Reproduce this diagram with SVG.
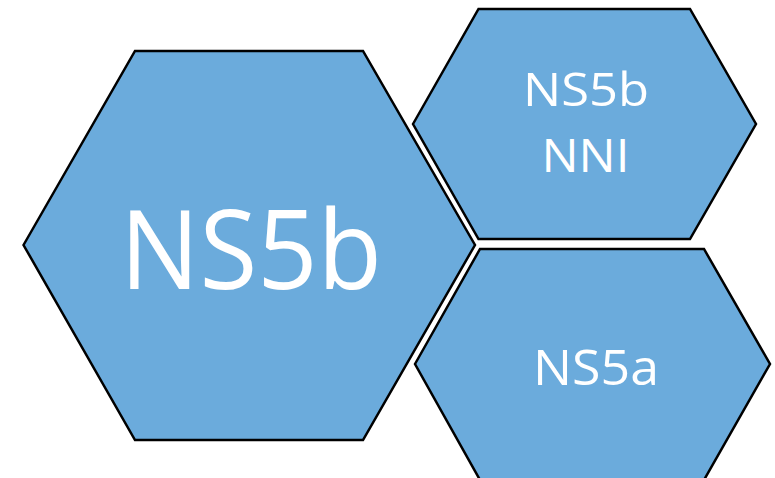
<svg xmlns="http://www.w3.org/2000/svg" width="775" height="478" viewBox="0 0 775 478">
  <style>
    .hex { fill: #6BABDC; stroke: #000000; stroke-width: 2.5; stroke-linejoin: miter; }
    .lbl { fill: #FFFFFF; font-family: "Open Sans", "Liberation Sans", sans-serif; text-anchor: middle; }
  </style>
  <rect width="775" height="478" fill="#FFFFFF"/>
  <g id="node-ns5b">
    <polygon class="hex" points="23.5,245 135,51 363,51 475,245 363,440 135,440"/>
    <text class="lbl" x="251" y="289" font-size="110" textLength="262" lengthAdjust="spacingAndGlyphs">NS5b</text>
  </g>
  <g id="node-ns5b-nni">
    <polygon class="hex" points="413,124 478.5,9 690,9 756,124 690,239 478.5,239"/>
    <text class="lbl" x="586" y="106" font-size="46" textLength="126" lengthAdjust="spacingAndGlyphs">NS5b</text>
    <text class="lbl" x="585.5" y="171.5" font-size="46" textLength="88" lengthAdjust="spacingAndGlyphs">NNI</text>
  </g>
  <g id="node-ns5a">
    <polygon class="hex" points="415,364 480,249 704,249 770,364 704,480 480,480"/>
    <text class="lbl" x="596" y="385" font-size="49" textLength="126" lengthAdjust="spacingAndGlyphs">NS5a</text>
  </g>
  <g id="connectors"></g>
</svg>
